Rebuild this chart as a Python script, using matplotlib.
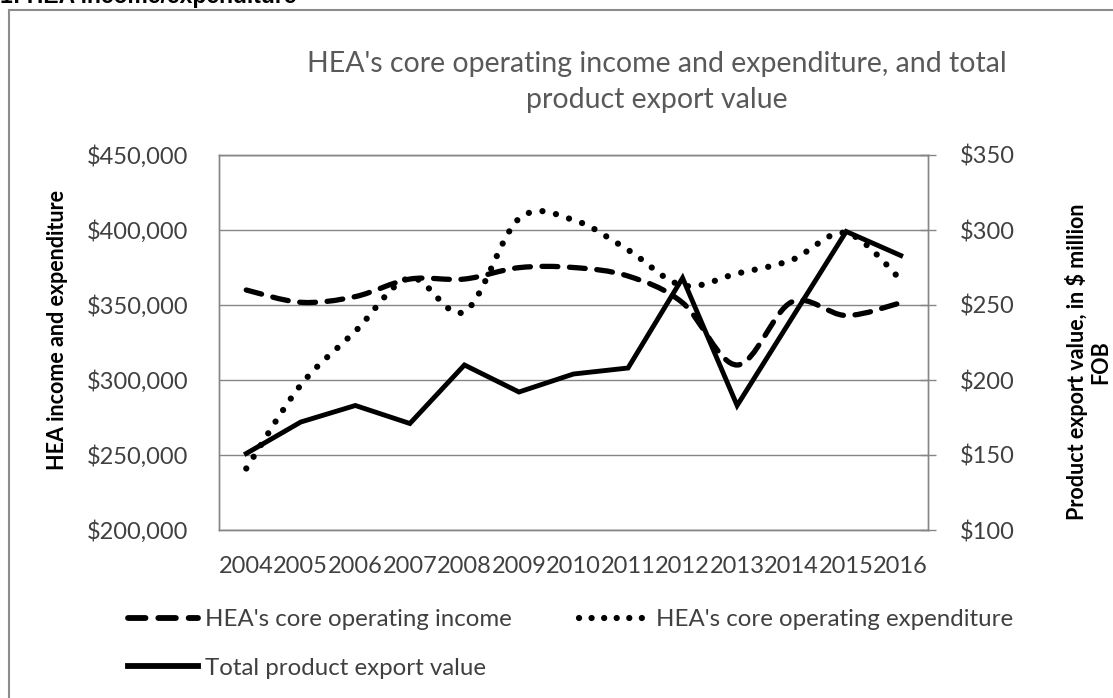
import numpy as np
import matplotlib.pyplot as plt
from matplotlib.path import Path
from matplotlib.patches import PathPatch, Rectangle
from matplotlib.lines import Line2D
from matplotlib.ticker import FuncFormatter, MultipleLocator

plt.rcParams['font.family'] = ['Lato', 'DejaVu Sans']

# data
years = [2004, 2005, 2006, 2007, 2008, 2009, 2010, 2011, 2012, 2013, 2014, 2015, 2016]
income = [360000, 351800, 355600, 367300, 367300, 374900, 375000, 369300,
          351500, 310000, 352000, 343000, 351500]
expenditure = [241000, 296700, 332500, 368000, 345500, 407500, 406700, 386700,
               363000, 371000, 380000, 398000, 367000]
export_value = [151, 172, 183, 171, 210, 192, 204, 208, 268, 183, 241, 299, 283]

GRID = '#868686'
TEXT = '#404040'


def smooth_path(x, y):
    # Excel style smoothed line: cubic bezier through every point
    x = np.asarray(x, float)
    y = np.asarray(y, float)
    n = len(x)
    verts = [(x[0], y[0])]
    codes = [Path.MOVETO]
    for i in range(n - 1):
        i0 = max(i - 1, 0)
        i3 = min(i + 2, n - 1)
        c1 = (x[i] + (x[i + 1] - x[i0]) / 6, y[i] + (y[i + 1] - y[i0]) / 6)
        c2 = (x[i + 1] - (x[i3] - x[i]) / 6, y[i + 1] - (y[i3] - y[i]) / 6)
        verts += [c1, c2, (x[i + 1], y[i + 1])]
        codes += [Path.CURVE4] * 3
    return Path(verts, codes)


W, H = 1113, 698
fig = plt.figure(figsize=(W / 100, H / 100), dpi=100)
ax = fig.add_axes([219 / W, 1 - 530 / H, (928 - 219) / W, (530 - 155) / H])
ax2 = ax.twinx()

xpos = np.arange(len(years))

DASH = (0, (3.0, 2.2))
DOT = (0, (0.01, 2.2))

ax.add_patch(PathPatch(smooth_path(xpos, income), fill=False, lw=3.8, color='black',
                       linestyle=DASH, capstyle='round'))
ax.add_patch(PathPatch(smooth_path(xpos, expenditure), fill=False, lw=4.5, color='black',
                       linestyle=DOT, capstyle='round'))
ax2.plot(xpos, export_value, color='black', lw=3.5, solid_joinstyle='miter')

ax.set_xlim(-0.5, len(years) - 0.5)
ax.set_ylim(200000, 450000)
ax2.set_ylim(100, 350)
ax.yaxis.set_major_locator(MultipleLocator(50000))
ax2.yaxis.set_major_locator(MultipleLocator(50))
ax.yaxis.set_major_formatter(FuncFormatter(lambda v, p: '${:,.0f}'.format(v)))
ax2.yaxis.set_major_formatter(FuncFormatter(lambda v, p: '${:.0f}'.format(v)))
ax.set_xticks(xpos)
ax.set_xticklabels([str(y) for y in years])

ax.grid(axis='y', color=GRID, lw=1)
ax.set_axisbelow(True)
for a in (ax, ax2):
    for s in a.spines.values():
        s.set_color(GRID)
        s.set_linewidth(1)
ax.tick_params(axis='y', length=0, pad=22, labelsize=17, labelcolor=TEXT)
ax.tick_params(axis='x', length=0, pad=19, labelsize=17, labelcolor=TEXT)
ax2.tick_params(axis='y', direction='inout', length=12, width=1, color=GRID,
                pad=17, labelsize=17, labelcolor=TEXT)

fig.text(58 / W, 1 - 330 / H, 'HEA income and expenditure', rotation=90,
         ha='center', va='center', fontsize=15.5, fontweight='bold', color='black')
fig.text(1088 / W, 1 - 362 / H, 'Product export value, in $ million\nFOB', rotation=90,
         ha='center', va='center', fontsize=15.5, fontweight='bold', color='black',
         multialignment='center', linespacing=1.1)

fig.text(657 / W, 1 - 82 / H,
         "HEA's core operating income and expenditure, and total\nproduct export value",
         ha='center', va='center', fontsize=20.5, color='#595959', linespacing=1.5)

# section heading cut off at the top of the image
fig.text(0, 1 - 3 / H, '1: HEA income/expenditure', ha='left', va='baseline',
         fontsize=16.5, fontweight='bold', family='Liberation Sans', color='black')

# chart border
fig.add_artist(Rectangle((9 / W, -0.2), 1.2, 1.2 - 10 / H, transform=fig.transFigure,
                         fill=False, edgecolor='#8c8c8c', lw=1.5))

handles = [
    Line2D([], [], color='black', lw=4.2, linestyle=DASH, dash_capstyle='round'),
    Line2D([], [], color='black', lw=4.2),
    Line2D([], [], color='black', lw=4.5, linestyle=(0, (0.01, 2.0)), dash_capstyle='round'),
]
labels = ["HEA's core operating income", 'Total product export value',
          "HEA's core operating expenditure"]
fig.legend(handles, labels, loc='upper left', bbox_to_anchor=(128 / W, 1 - 609 / H),
           ncol=2, frameon=False, fontsize=17.3, handlelength=2.9, handletextpad=0.3,
           columnspacing=2.8, labelspacing=1.15, borderpad=0, borderaxespad=0,
           labelcolor=TEXT)

fig.savefig('out.png', dpi=100)
